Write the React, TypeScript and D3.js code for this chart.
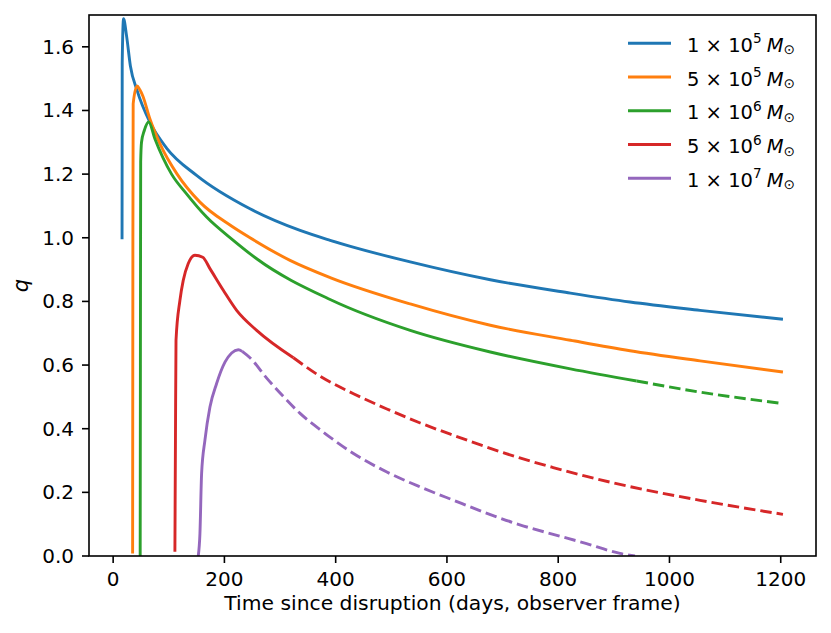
import * as d3 from 'd3';

const W = 831;
const H = 633;
const margin = { top: 15, right: 15, bottom: 77, left: 89 };

// time (days) vs q
const blue: [number, number][] = [
  [16, 0.995], [16.3, 1.55], [18.7, 1.688], [24, 1.636], [31, 1.54], [43, 1.463],
  [66, 1.363], [96, 1.282], [150, 1.196], [246, 1.091], [336, 1.023], [390, 0.992],
  [534, 0.924], [678, 0.868], [822, 0.826], [929, 0.798], [1055, 0.772], [1204, 0.744],
];
const orange: [number, number][] = [
  [35, 0.008], [35.5, 1.0], [36, 1.421], [43, 1.477], [48, 1.465], [53, 1.447],
  [66, 1.374], [84, 1.296], [115, 1.2], [156, 1.112], [210, 1.04], [246, 1.0],
  [318, 0.929], [390, 0.875], [534, 0.792], [678, 0.725], [822, 0.678], [929, 0.645],
  [1055, 0.613], [1204, 0.578],
];
const greenSolid: [number, number][] = [
  [48.6, 0.0], [49, 0.6], [49.5, 1.238], [51, 1.3], [56, 1.337], [64, 1.364],
  [75, 1.311], [105, 1.2], [132, 1.138], [168, 1.065], [216, 0.992], [258, 0.934],
  [390, 0.806], [534, 0.709], [678, 0.641], [822, 0.588], [941, 0.55],
];
const greenDashed: [number, number][] = [[941, 0.55], [1055, 0.515], [1204, 0.479]];
const redSolid: [number, number][] = [
  [111, 0.013], [112, 0.364], [113, 0.678], [120, 0.803], [126, 0.866], [135, 0.919],
  [147, 0.945], [161, 0.939], [174, 0.903], [198, 0.835], [222, 0.772], [258, 0.709],
  [324, 0.623],
];
const redDashed: [number, number][] = [
  [324, 0.623], [372, 0.565], [432, 0.51], [492, 0.462], [552, 0.418], [612, 0.379],
  [672, 0.342], [731, 0.308], [791, 0.278], [851, 0.25], [911, 0.225], [1055, 0.175],
  [1204, 0.131],
];
const purpleSolid: [number, number][] = [
  [153, 0.0], [156, 0.07], [159, 0.259], [165, 0.364], [174, 0.468], [186, 0.542],
  [201, 0.609], [213, 0.638], [225, 0.648], [232, 0.643],
];
const purpleDashed: [number, number][] = [
  [232, 0.643], [246, 0.623], [276, 0.559], [306, 0.501], [336, 0.448], [375, 0.393],
  [432, 0.322], [492, 0.264], [552, 0.217], [612, 0.175], [672, 0.134], [731, 0.098],
  [791, 0.068], [851, 0.039], [911, 0.008], [938, 0.0],
];

const colors = ['#1f77b4', '#ff7f0e', '#2ca02c', '#d62728', '#9467bd'];
const massCoef = ['1', '5', '1', '5', '1'];
const massExp = ['5', '5', '6', '6', '7'];
const xTicks = [0, 200, 400, 600, 800, 1000, 1200];
const yTicks = [0, 0.2, 0.4, 0.6, 0.8, 1.0, 1.2, 1.4, 1.6];

const FONT = 'DejaVu Sans, sans-serif';
const FS = 20;
const LFS = 19.5;

export default function App() {
  const all = [blue, orange, greenSolid, greenDashed, redSolid, redDashed, purpleSolid, purpleDashed].flat();
  const [tMin, tMax] = d3.extent(all, (d) => d[0]) as [number, number];
  const pad = (tMax - tMin) * 0.05;

  const x = d3.scaleLinear().domain([tMin - pad, tMax + pad]).range([margin.left, W - margin.right]);
  const y = d3.scaleLinear().domain([0, 1.7]).range([H - margin.bottom, margin.top]);

  const line = d3
    .line<[number, number]>()
    .x((d) => x(d[0]))
    .y((d) => y(d[1]))
    .curve(d3.curveMonotoneX);

  const series = [
    { pts: blue, c: 0, dash: false },
    { pts: orange, c: 1, dash: false },
    { pts: greenSolid, c: 2, dash: false },
    { pts: greenDashed, c: 2, dash: true },
    { pts: redSolid, c: 3, dash: false },
    { pts: redDashed, c: 3, dash: true },
    { pts: purpleSolid, c: 4, dash: false },
    { pts: purpleDashed, c: 4, dash: true },
  ];

  const left = margin.left;
  const right = W - margin.right;
  const top = margin.top;
  const bottom = H - margin.bottom;
  const fmt = d3.format('.1f');

  return (
    <svg
      width={W}
      height={H}
      style={{ position: 'absolute', left: 0, top: 0, background: '#fff' }}
      fontFamily={FONT}
    >
      <defs>
        <clipPath id="plot">
          <rect x={left} y={top} width={right - left} height={bottom - top} />
        </clipPath>
      </defs>

      <g clipPath="url(#plot)">
        {series.map((s, i) => (
          <path
            key={i}
            d={line(s.pts) || ''}
            fill="none"
            stroke={colors[s.c]}
            strokeWidth={2.9}
            strokeDasharray={s.dash ? '11.5 5' : undefined}
            strokeLinejoin="round"
          />
        ))}
      </g>

      {/* x axis ticks */}
      {xTicks.map((t) => (
        <g key={t}>
          <line x1={x(t)} x2={x(t)} y1={bottom} y2={bottom + 7} stroke="#000" strokeWidth={1.6} />
          <text x={x(t)} y={bottom + 29.5} textAnchor="middle" fontSize={FS} fill="#000">
            {t}
          </text>
        </g>
      ))}

      {/* y axis ticks */}
      {yTicks.map((t) => (
        <g key={t}>
          <line x1={left - 7} x2={left} y1={y(t)} y2={y(t)} stroke="#000" strokeWidth={1.6} />
          <text x={left - 15} y={y(t) + 7} textAnchor="end" fontSize={FS} fill="#000">
            {fmt(t)}
          </text>
        </g>
      ))}

      <rect x={left} y={top} width={right - left} height={bottom - top} fill="none" stroke="#000" strokeWidth={1.6} />

      <text x={(left + right) / 2} y={bottom + 54} textAnchor="middle" fontSize={FS + 0.3} fill="#000">
        Time since disruption (days, observer frame)
      </text>
      <text
        transform={`translate(28, ${(top + bottom) / 2}) rotate(-90)`}
        textAnchor="middle"
        fontSize={FS + 1}
        fontStyle="italic"
        fill="#000"
      >
        q
      </text>

      {/* legend */}
      {colors.map((c, i) => {
        const ly = 43.3 + i * 33.75;
        return (
          <g key={c}>
            <line x1={628} x2={671} y1={ly} y2={ly} stroke={c} strokeWidth={2.9} />
            <text x={687} y={ly + 8.6} fontSize={LFS} fill="#000">
              <tspan>{massCoef[i]} × 10</tspan>
              <tspan dy={-8.6} fontSize={LFS * 0.7}>{massExp[i]}</tspan>
              <tspan dy={8.6} dx={5} fontStyle="italic">M</tspan>
              <tspan dy={2.5} fontSize={LFS * 0.7}>⊙</tspan>
            </text>
          </g>
        );
      })}
    </svg>
  );
}
